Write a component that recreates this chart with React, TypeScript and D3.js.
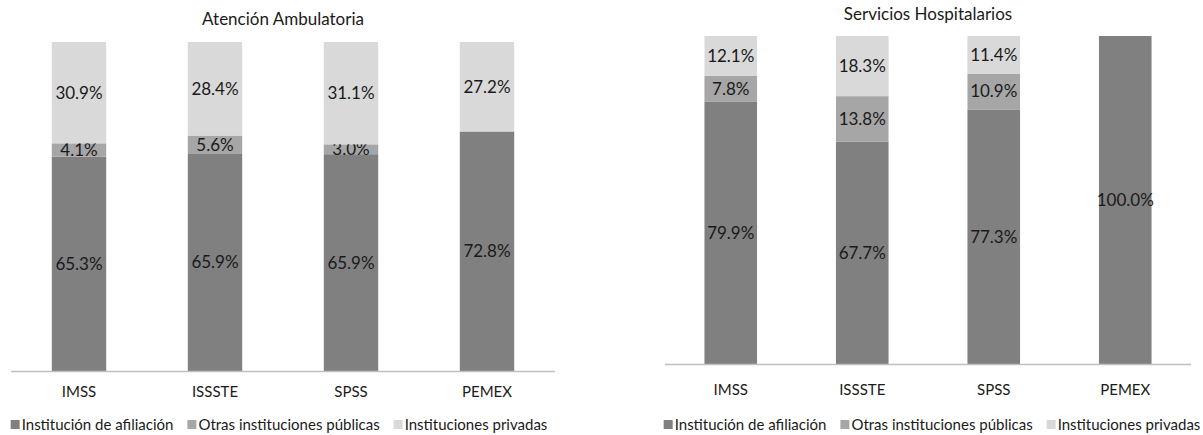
import React, { useEffect, useRef } from "react";
import * as d3 from "d3";

const categories = ["IMSS", "ISSSTE", "SPSS", "PEMEX"];
const seriesNames = ["Institución de afiliación", "Otras instituciones públicas", "Instituciones privadas"];
const seriesColors = ["#808080", "#a6a6a6", "#d9d9d9"];

// Atención Ambulatoria
const ambAfiliacion = [65.3, 65.9, 65.9, 72.8];
const ambOtrasPublicas = [4.1, 5.6, 3.0, 0];
const ambPrivadas = [30.9, 28.4, 31.1, 27.2];

// Servicios Hospitalarios
const hospAfiliacion = [79.9, 67.7, 77.3, 100.0];
const hospOtrasPublicas = [7.8, 13.8, 10.9, 0];
const hospPrivadas = [12.1, 18.3, 11.4, 0];

const FONT = "Lato, 'Open Sans', 'Noto Sans', sans-serif";

type Panel = {
  title: string;
  values: number[][];
  x0: number;
  x1: number;
  yTop: number;
  yBase: number;
  titleY: number;
  labelY: number;
  legendY: number;
  legendCenter: number;
};

const panels: Panel[] = [
  {
    title: "Atención Ambulatoria",
    values: [ambAfiliacion, ambOtrasPublicas, ambPrivadas],
    x0: 11, x1: 555, yTop: 42, yBase: 371,
    titleY: 25, labelY: 397, legendY: 430, legendCenter: 279,
  },
  {
    title: "Servicios Hospitalarios",
    values: [hospAfiliacion, hospOtrasPublicas, hospPrivadas],
    x0: 665, x1: 1191, yTop: 36, yBase: 364,
    titleY: 20, labelY: 395, legendY: 430, legendCenter: 932,
  },
];

export default function App() {
  const ref = useRef<SVGSVGElement>(null);

  useEffect(() => {
    const svg = d3.select(ref.current);
    svg.selectAll("*").remove();

    panels.forEach((p) => {
      const g = svg.append("g");
      const rows = categories.map((c, i) => {
        const r: any = { cat: c };
        seriesNames.forEach((s, k) => (r[s] = p.values[k][i]));
        return r;
      });
      const stack = d3.stack<any>().keys(seriesNames).offset(d3.stackOffsetExpand);
      const stacked = stack(rows);

      const x = d3.scaleBand().domain(categories).range([p.x0, p.x1]).paddingInner(0.6).paddingOuter(0.3);
      const y = d3.scaleLinear().domain([0, 1]).range([p.yBase, p.yTop]);

      stacked.forEach((layer, k) => {
        const lg = g.append("g");
        lg.selectAll("rect")
          .data(layer)
          .join("rect")
          .attr("x", (d: any) => x(d.data.cat)!)
          .attr("width", x.bandwidth())
          .attr("y", (d) => y(d[1]))
          .attr("height", (d) => Math.max(0, y(d[0]) - y(d[1])))
          .attr("fill", seriesColors[k]);
        lg.selectAll("text")
          .data(layer.filter((d: any) => d.data[seriesNames[k]] > 0))
          .join("text")
          .attr("x", (d: any) => x(d.data.cat)! + x.bandwidth() / 2)
          .attr("y", (d) => (y(d[0]) + y(d[1])) / 2)
          .attr("dy", "0.35em")
          .attr("text-anchor", "middle")
          .attr("font-family", FONT)
          .attr("font-size", 17)
          .attr("fill", "#1a1a1a")
          .text((d: any) => d.data[seriesNames[k]].toFixed(1) + "%");
      });

      // baseline
      g.append("line")
        .attr("x1", p.x0).attr("x2", p.x1)
        .attr("y1", p.yBase + 0.5).attr("y2", p.yBase + 0.5)
        .attr("stroke", "#bfbfbf").attr("stroke-width", 1.3);

      // category labels
      g.selectAll("text.cat")
        .data(categories)
        .join("text")
        .attr("class", "cat")
        .attr("x", (c) => x(c)! + x.bandwidth() / 2)
        .attr("y", p.labelY)
        .attr("text-anchor", "middle")
        .attr("font-family", FONT)
        .attr("font-size", 15)
        .attr("fill", "#1a1a1a")
        .text((c) => c);

      // title
      g.append("text")
        .attr("x", (p.x0 + p.x1) / 2)
        .attr("y", p.titleY)
        .attr("text-anchor", "middle")
        .attr("font-family", FONT)
        .attr("font-size", 17)
        .attr("fill", "#1a1a1a")
        .text(p.title);

      // legend
      const leg = g.append("g");
      let cx = 0;
      const gap = 14;
      seriesNames.forEach((s, k) => {
        const it = leg.append("g").attr("transform", `translate(${cx},0)`);
        it.append("rect").attr("x", 0).attr("y", p.legendY - 10).attr("width", 9).attr("height", 9).attr("fill", seriesColors[k]);
        const t = it.append("text")
          .attr("x", 11)
          .attr("y", p.legendY)
          .attr("font-family", FONT)
          .attr("font-size", 15)
          .attr("fill", "#1a1a1a")
          .text(s);
        const w = (t.node() as SVGTextElement).getComputedTextLength();
        cx += 11 + w + gap;
      });
      const total = cx - gap;
      leg.attr("transform", `translate(${p.legendCenter - total / 2},0)`);
    });
  }, []);

  return (
    <svg ref={ref} width={1203} height={435} style={{ position: "absolute", left: 0, top: 0, background: "#fff" }} />
  );
}
